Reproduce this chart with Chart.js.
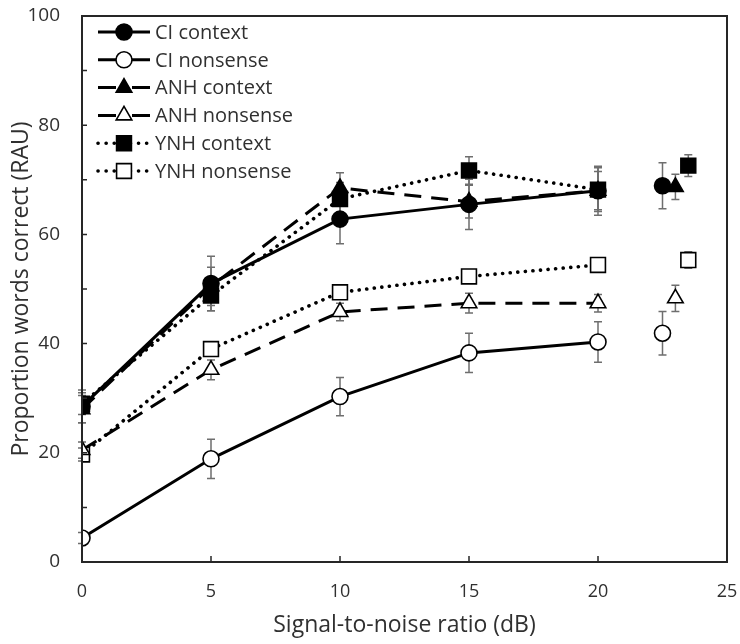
<!DOCTYPE html>
<html><head><meta charset="utf-8">
<script src="https://cdn.jsdelivr.net/npm/chart.js@4.4.1/dist/chart.umd.min.js"></script>
<style>html,body{margin:0;padding:0;background:#fff}</style>
</head><body>
<canvas id="c" width="740" height="644"></canvas>
<script>
// ---- data ----
const snr = [0, 5, 10, 15, 20];
const xTickLabels = [0, 5, 10, 15, 20, 25];
const yTickLabels = [0, 20, 40, 60, 80, 100];

const ciContext      = [28.5, 51.0, 62.8, 65.5, 68.0];
const ciContextErr   = [3.0, 5.0, 4.5, 4.6, 4.5];
const ciNonsense     = [4.4, 18.9, 30.3, 38.3, 40.3];
const ciNonsenseErr  = [1.0, 3.6, 3.5, 3.6, 3.7];
const anhContext     = [28.0, 50.5, 68.5, 66.0, 68.0];
const anhContextErr  = [2.5, 3.5, 2.8, 3.0, 3.5];
const anhNonsense    = [20.5, 35.2, 45.8, 47.4, 47.4];
const anhNonsenseErr = [1.5, 1.8, 1.6, 1.8, 1.6];
const ynhContext     = [29.0, 48.8, 66.5, 71.7, 68.2];
const ynhContextErr  = [2.0, 2.8, 3.0, 2.5, 4.0];
const ynhNonsense    = [19.7, 39.0, 49.4, 52.3, 54.4];
const ynhNonsenseErr = [1.2, 1.2, 1.3, 1.2, 1.2];

// separate (unconnected) points on the right
const ciExtraX = 22.5, anhExtraX = 23.0, ynhExtraX = 23.5;
const ciContextExtra = 68.9,  ciContextExtraErr = 4.2;
const ciNonsenseExtra = 41.9, ciNonsenseExtraErr = 4.0;
const anhContextExtra = 68.7, anhContextExtraErr = 2.3;
const anhNonsenseExtra = 48.3, anhNonsenseExtraErr = 2.4;
const ynhContextExtra = 72.6, ynhContextExtraErr = 2.0;
const ynhNonsenseExtra = 55.3, ynhNonsenseExtraErr = 1.5;

const FONT = "'Open Sans', 'Liberation Sans', sans-serif";
const TXT = '#303030';

function build(vals, extraX, extraY) {
  const d = snr.map((x, i) => ({x: x, y: vals[i]}));
  d.push({x: (snr[snr.length - 1] + extraX) / 2, y: null});
  d.push({x: extraX, y: extraY});
  return d;
}
function errs(e, extra) { return e.concat([null, extra]); }

function ds(label, data, errors, style, legendDash, pointStyle, filled, radius) {
  return Object.assign({
    label: label, data: data, errors: errors, legendDash: legendDash,
    borderColor: '#000', borderWidth: 3, fill: false, tension: 0, spanGaps: false,
    pointStyle: pointStyle, pointRadius: radius,
    pointBackgroundColor: filled ? '#000' : '#fff',
    pointBorderColor: '#000', pointBorderWidth: 1.6
  }, style);
}
const solid = {borderDash: []};
const dashed = {borderDash: [17, 10]};
const dotted = {borderDash: [0.1, 7.5], borderCapStyle: 'round', borderWidth: 3.6};

const datasets = [
  ds('CI context',   build(ciContext, ciExtraX, ciContextExtra),   errs(ciContextErr, ciContextExtraErr),   solid,  [], 'circle',   true,  8),
  ds('CI nonsense',  build(ciNonsense, ciExtraX, ciNonsenseExtra), errs(ciNonsenseErr, ciNonsenseExtraErr), solid,  [], 'circle',   false, 8),
  ds('ANH context',  build(anhContext, anhExtraX, anhContextExtra), errs(anhContextErr, anhContextExtraErr), dashed, [18, 16], 'triangle', true,  9),
  ds('ANH nonsense', build(anhNonsense, anhExtraX, anhNonsenseExtra), errs(anhNonsenseErr, anhNonsenseExtraErr), dashed, [18, 16], 'triangle', false, 9),
  ds('YNH context',  build(ynhContext, ynhExtraX, ynhContextExtra), errs(ynhContextErr, ynhContextExtraErr), dotted, [0.1, 8], 'rect',     true,  10.5),
  ds('YNH nonsense', build(ynhNonsense, ynhExtraX, ynhNonsenseExtra), errs(ynhNonsenseErr, ynhNonsenseExtraErr), dotted, [0.1, 8], 'rect',  false, 10.5)
];

const errorBars = {
  id: 'errorBars',
  beforeDatasetsDraw(chart) {
    const ctx = chart.ctx, xs = chart.scales.x, ys = chart.scales.y;
    ctx.save();
    ctx.strokeStyle = '#6e6e6e'; ctx.lineWidth = 1.5;
    chart.data.datasets.forEach(d => {
      d.data.forEach((p, i) => {
        const e = d.errors[i];
        if (p.y == null || e == null) return;
        const px = xs.getPixelForValue(p.x);
        const t = ys.getPixelForValue(p.y + e), b = ys.getPixelForValue(p.y - e);
        ctx.beginPath();
        ctx.moveTo(px, t); ctx.lineTo(px, b);
        ctx.moveTo(px - 4, t); ctx.lineTo(px + 4, t);
        ctx.moveTo(px - 4, b); ctx.lineTo(px + 4, b);
        ctx.stroke();
      });
    });
    ctx.restore();
  }
};

const frame = {
  id: 'frame',
  afterDraw(chart) {
    const ctx = chart.ctx, a = chart.chartArea, xs = chart.scales.x, ys = chart.scales.y;
    ctx.save();
    ctx.strokeStyle = '#262626'; ctx.lineWidth = 2;
    ctx.strokeRect(a.left, a.top, a.right - a.left, a.bottom - a.top);
    ctx.beginPath();
    xs.ticks.forEach(t => {
      if (t.value <= xs.min || t.value >= xs.max) return;
      const px = xs.getPixelForValue(t.value);
      ctx.moveTo(px, a.bottom); ctx.lineTo(px, a.bottom - 6);
    });
    ys.ticks.forEach(t => {
      if (t.value <= ys.min || t.value >= ys.max) return;
      const py = ys.getPixelForValue(t.value);
      ctx.moveTo(a.left, py); ctx.lineTo(a.left + 5, py);
    });
    ctx.lineWidth = 1.5;
    ctx.stroke();
    ctx.restore();
  }
};

const legendBox = {
  id: 'legendBox',
  afterDraw(chart) {
    const ctx = chart.ctx;
    const x0 = 98, x1 = 150, mx = 124, tx = 155, y0 = 32, dy = 27.8;
    ctx.save();
    chart.data.datasets.forEach((d, i) => {
      const y = y0 + i * dy;
      ctx.save();
      ctx.strokeStyle = d.borderColor; ctx.lineWidth = d.borderWidth;
      ctx.lineCap = d.borderCapStyle || 'butt';
      ctx.setLineDash(d.legendDash);
      ctx.beginPath(); ctx.moveTo(x0, y); ctx.lineTo(x1, y); ctx.stroke();
      ctx.restore();
      ctx.fillStyle = d.pointBackgroundColor; ctx.strokeStyle = d.pointBorderColor;
      ctx.lineWidth = d.pointBorderWidth;
      Chart.helpers.drawPoint(ctx, {pointStyle: d.pointStyle, radius: d.pointRadius, rotation: 0, borderWidth: d.pointBorderWidth}, mx, y);
      ctx.fillStyle = TXT;
      ctx.font = "20px " + FONT;
      ctx.textBaseline = 'middle'; ctx.textAlign = 'left';
      ctx.fillText(d.label, tx, y + 1);
    });
    ctx.restore();
  }
};

new Chart(document.getElementById('c'), {
  type: 'line',
  data: {datasets: datasets},
  plugins: [errorBars, frame, legendBox],
  options: {
    responsive: false, animation: false,
    layout: {padding: {top: 16, right: 13, left: 0, bottom: 0}},
    plugins: {legend: {display: false}, tooltip: {enabled: false}},
    scales: {
      x: {
        type: 'linear', min: 0, max: 25,
        afterBuildTicks(s) { s.ticks = xTickLabels.map(v => ({value: v})); },
        ticks: {font: {family: FONT, size: 18}, color: TXT, padding: 19, maxRotation: 0},
        grid: {display: false, drawTicks: false},
        border: {display: false},
        title: {display: true, text: 'Signal-to-noise ratio (dB)', color: TXT, font: {family: FONT, size: 23}, padding: {top: 5, bottom: 5}},
        afterFit(s) { s.height = 82; s.paddingLeft = 0; s.paddingRight = 0; }
      },
      y: {
        min: 0, max: 100,
        ticks: {stepSize: 10, font: {family: FONT, size: 19}, color: TXT, padding: 22,
                callback: v => yTickLabels.includes(v) ? v : ''},
        grid: {display: false, drawTicks: false},
        border: {display: false},
        title: {display: true, text: 'Proportion words correct (RAU)', color: TXT, font: {family: FONT, size: 23}, padding: {top: 8, bottom: 8}},
        afterFit(s) { s.width = 82; s.paddingTop = 0; s.paddingBottom = 0; }
      }
    }
  }
});
</script>
</body></html>
